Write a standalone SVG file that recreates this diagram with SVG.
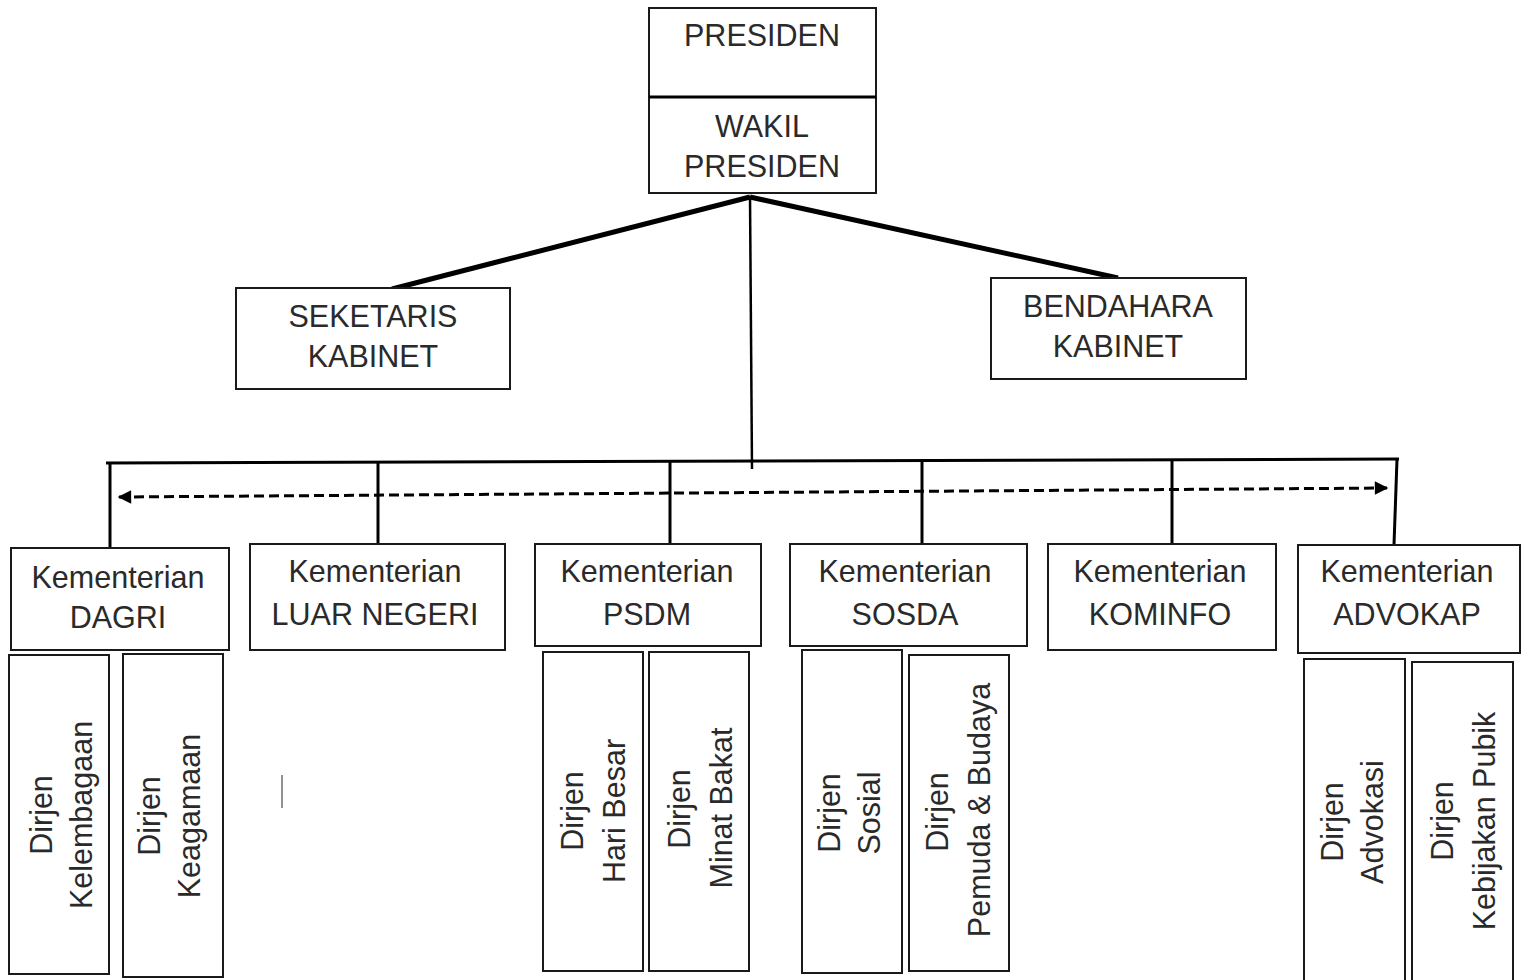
<svg xmlns="http://www.w3.org/2000/svg" width="1526" height="980" viewBox="0 0 1526 980">
<style>
.box{fill:#fff;stroke:#1a1a1a;stroke-width:2}
.t{font-family:"Liberation Sans",Arial,sans-serif;font-size:30.5px;fill:#2a2a2a;text-anchor:middle}
.thick{stroke:#000;stroke-width:5;fill:none;stroke-linecap:butt}
.mid{stroke:#000;stroke-width:3;fill:none}
.dash{stroke:#000;stroke-width:3;fill:none;stroke-dasharray:10 5}
</style>
<defs>
<marker id="ah" viewBox="0 0 10 10" refX="9" refY="5" markerWidth="5" markerHeight="4.5" orient="auto-start-reverse" markerUnits="strokeWidth">
<path d="M0,0 L10,5 L0,10 z" fill="#000"/>
</marker>
</defs>
<rect width="1526" height="980" fill="#fff"/>

<g id="connectors">
<line class="thick" x1="750" y1="197" x2="392" y2="289"/>
<line class="thick" x1="750" y1="197" x2="1118" y2="278"/>
<line class="mid" x1="750" y1="196" x2="752" y2="469" style="stroke-width:2.5"/>
<line class="mid" x1="106" y1="463" x2="1399" y2="459"/>
<line class="mid" x1="110" y1="463" x2="110" y2="548"/>
<line class="mid" x1="378" y1="462" x2="378" y2="545"/>
<line class="mid" x1="670" y1="461" x2="670" y2="544"/>
<line class="mid" x1="922" y1="460" x2="922" y2="544"/>
<line class="mid" x1="1172" y1="460" x2="1172" y2="544"/>
<line class="mid" x1="1397" y1="459" x2="1394" y2="545"/>
<line class="dash" x1="119" y1="497" x2="1387" y2="488" marker-start="url(#ah)" marker-end="url(#ah)"/>
<line x1="282" y1="775" x2="282" y2="808" stroke="#555" stroke-width="1.3"/>
</g>

<g id="presiden">
<rect class="box" x="649" y="8" width="227" height="89"/>
<text class="t" x="762" y="46">PRESIDEN</text>
</g>
<g id="wakil-presiden">
<rect class="box" x="649" y="97" width="227" height="96"/>
<line x1="649" y1="97" x2="876" y2="97" stroke="#000" stroke-width="3"/>
<text class="t" x="762" y="137">WAKIL</text>
<text class="t" x="762" y="177">PRESIDEN</text>
</g>
<g id="seketaris-kabinet">
<rect class="box" x="236" y="288" width="274" height="101"/>
<text class="t" x="373" y="327">SEKETARIS</text>
<text class="t" x="373" y="367">KABINET</text>
</g>
<g id="bendahara-kabinet">
<rect class="box" x="991" y="278" width="255" height="101"/>
<text class="t" x="1118" y="317">BENDAHARA</text>
<text class="t" x="1118" y="357">KABINET</text>
</g>

<g id="k-dagri">
<rect class="box" x="11" y="548" width="218" height="102"/>
<text class="t" x="118" y="588">Kementerian</text>
<text class="t" x="118" y="628">DAGRI</text>
</g>
<g id="k-luar-negeri">
<rect class="box" x="250" y="544" width="255" height="106"/>
<text class="t" x="375" y="582">Kementerian</text>
<text class="t" x="375" y="625">LUAR NEGERI</text>
</g>
<g id="k-psdm">
<rect class="box" x="535" y="544" width="226" height="102"/>
<text class="t" x="647" y="582">Kementerian</text>
<text class="t" x="647" y="625">PSDM</text>
</g>
<g id="k-sosda">
<rect class="box" x="790" y="544" width="237" height="102"/>
<text class="t" x="905" y="582">Kementerian</text>
<text class="t" x="905" y="625">SOSDA</text>
</g>
<g id="k-kominfo">
<rect class="box" x="1048" y="544" width="228" height="106"/>
<text class="t" x="1160" y="582">Kementerian</text>
<text class="t" x="1160" y="625">KOMINFO</text>
</g>
<g id="k-advokap">
<rect class="box" x="1298" y="545" width="222" height="108"/>
<text class="t" x="1407" y="582">Kementerian</text>
<text class="t" x="1407" y="625">ADVOKAP</text>
</g>

<g id="d-kelembagaan">
<rect class="box" x="9" y="655" width="100" height="319"/>
<text class="t" transform="translate(52,815) rotate(-90)">Dirjen</text>
<text class="t" transform="translate(92,815) rotate(-90)">Kelembagaan</text>
</g>
<g id="d-keagamaan">
<rect class="box" x="123" y="654" width="100" height="323"/>
<text class="t" transform="translate(160,816) rotate(-90)">Dirjen</text>
<text class="t" transform="translate(200,816) rotate(-90)">Keagamaan</text>
</g>
<g id="d-hari-besar">
<rect class="box" x="543" y="652" width="100" height="319"/>
<text class="t" transform="translate(583,811) rotate(-90)">Dirjen</text>
<text class="t" transform="translate(625,811) rotate(-90)">Hari Besar</text>
</g>
<g id="d-minat-bakat">
<rect class="box" x="649" y="652" width="100" height="319"/>
<text class="t" transform="translate(690,809) rotate(-90)">Dirjen</text>
<text class="t" transform="translate(732,808) rotate(-90)">Minat Bakat</text>
</g>
<g id="d-sosial">
<rect class="box" x="802" y="650" width="100" height="323"/>
<text class="t" transform="translate(840,813) rotate(-90)">Dirjen</text>
<text class="t" transform="translate(880,813) rotate(-90)">Sosial</text>
</g>
<g id="d-pemuda-budaya">
<rect class="box" x="909" y="655" width="100" height="316"/>
<text class="t" transform="translate(948,812) rotate(-90)">Dirjen</text>
<text class="t" transform="translate(990,810) rotate(-90)">Pemuda &amp; Budaya</text>
</g>
<g id="d-advokasi">
<rect class="box" x="1304" y="659" width="101" height="330"/>
<text class="t" transform="translate(1343,822) rotate(-90)">Dirjen</text>
<text class="t" transform="translate(1383,822) rotate(-90)">Advokasi</text>
</g>
<g id="d-kebijakan-pubik">
<rect class="box" x="1412" y="662" width="101" height="330"/>
<text class="t" transform="translate(1453,821) rotate(-90)">Dirjen</text>
<text class="t" transform="translate(1495,821) rotate(-90)">Kebijakan Pubik</text>
</g>
</svg>
